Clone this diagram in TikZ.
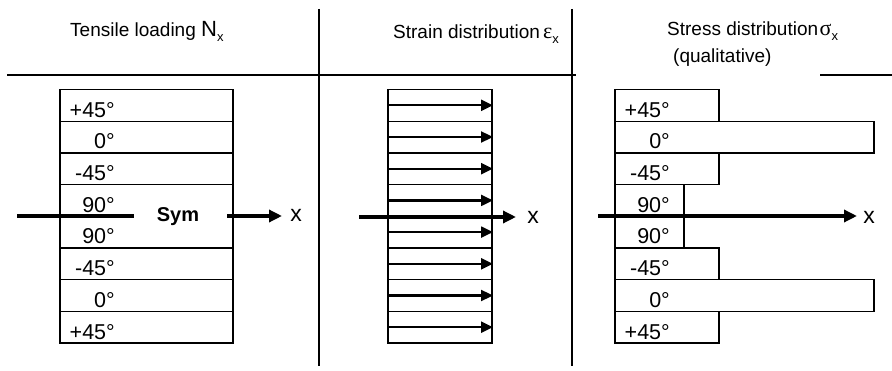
\documentclass[tikz,border=0pt]{standalone}
\usepackage{fontspec}
\setmainfont{Liberation Sans}
\newfontfamily\greekfont{Liberation Serif}
\usetikzlibrary{arrows.meta}

% subscript x used in the column headings
\newcommand{\subx}{\raisebox{-4.5pt}{\fontsize{13}{13}\selectfont x}}
% Greek symbol in the column headings
\newcommand{\grk}[1]{{\greekfont\fontsize{22}{22}\selectfont #1}}

\begin{document}
\begin{tikzpicture}[x=1pt,y=-1pt,
  rule/.style={line width=1.8pt},
  ply/.style={draw, line width=1.3pt},
  axisbare/.style={line width=4.5pt},
  axis/.style={line width=4.5pt, -{Triangle[length=13pt,width=12pt]}},
  strain/.style={line width=2.3pt, -{Triangle[length=12pt,width=11pt]}},
  head/.style={font=\fontsize{19}{22}\selectfont, inner sep=0pt, anchor=base west},
  lbl/.style={font=\fontsize{21.5}{24}\selectfont, inner sep=0pt, anchor=base east},
  xlbl/.style={font=\fontsize{23}{24}\selectfont, inner sep=0pt, anchor=base},
]
\useasboundingbox (0,0) rectangle (892,371);

% ---- frame: column separators and heading rule
\draw[rule] (319,9) -- (319,366);
\draw[rule] (572,9) -- (572,366);
\draw[rule] (7,75) -- (576,75);
\draw[rule] (820,75) -- (892,75);

% ---- headings
\node[head] (tl) at (70,37) {Tensile loading {\fontsize{22}{22}\selectfont N}\subx};
\node[head] (sd) at (393,39) {Strain distribution\,\grk{ε}\subx};
\node[head] (st) at (667,36) {Stress distribution\kern1.5pt\grk{σ}\subx};
\node[head] (ql) at (673,63) {(qualitative)};

% ply boundaries (8 plies of equal thickness)
\def\ya{89.5}  \def\yb{121.2} \def\yc{152.9} \def\yd{184.6}
\def\ye{216.3} \def\yf{248.0} \def\yg{279.7} \def\yh{311.4} \def\yi{343.1}

% ---- left column: laminate stacking sequence
\draw[ply] (60,\ya) rectangle (233,\yi);
\foreach \yy in {\yb,\yc,\yd,\yf,\yg,\yh} \draw[ply] (60,\yy) -- (233,\yy);
\node[lbl] (l1) at (115,117.2) {+45°};
\node[lbl] (l2) at (115,148.9) {0°};
\node[lbl] (l3) at (115,180.6) {-45°};
\node[lbl] (l4) at (115,212.3) {90°};
\node[lbl] (l5) at (115,244.0) {90°};
\node[lbl] (l6) at (115,275.7) {-45°};
\node[lbl] (l7) at (115,307.4) {0°};
\node[lbl] (l8) at (115,339.1) {+45°};

\coordinate (la) at (17,216);
\coordinate (lb) at (134,216);
\coordinate (lc) at (227,216);
\coordinate (ld) at (282,216);
\draw[axisbare] (la) -- (lb);
\node[font=\fontsize{20}{22}\selectfont\bfseries, inner sep=0pt, anchor=base] (sym) at (178,222) {Sym};
\draw[axis] (lc) -- (ld);
\node[xlbl] (lx) at (296,222) {x};

% ---- middle column: uniform strain
\draw[ply] (388,\ya) rectangle (492,\yi);
\foreach \yy in {\yb,\yc,\yd,\yf,\yg,\yh} \draw[ply] (388,\yy) -- (492,\yy);
\foreach \yy [count=\k] in {105.3,137.0,168.7,200.4,232.1,263.8,295.5,327.2} {
  \coordinate (s\k) at (388,\yy);
  \coordinate (e\k) at (493,\yy);
  \draw[strain] (s\k) -- (e\k);
}
\coordinate (ma) at (359,217);
\coordinate (mb) at (516,217);
\draw[axis] (ma) -- (mb);
\node[xlbl] (mx) at (533,224) {x};

% ---- right column: ply stresses
\draw[ply] (615,\ya) rectangle (719,\yb);
\draw[ply] (615,\yb) rectangle (874,\yc);
\draw[ply] (615,\yc) rectangle (719,\yd);
\draw[ply] (615,\yd) rectangle (684,\yf);
\draw[ply] (615,\yf) rectangle (719,\yg);
\draw[ply] (615,\yg) rectangle (874,\yh);
\draw[ply] (615,\yh) rectangle (719,\yi);
\node[lbl] (r1) at (670,117.2) {+45°};
\node[lbl] (r2) at (670,148.9) {0°};
\node[lbl] (r3) at (670,180.6) {-45°};
\node[lbl] (r4) at (670,212.3) {90°};
\node[lbl] (r5) at (670,244.0) {90°};
\node[lbl] (r6) at (670,275.7) {-45°};
\node[lbl] (r7) at (670,307.4) {0°};
\node[lbl] (r8) at (670,339.1) {+45°};

\coordinate (ra) at (598,216);
\coordinate (rb) at (857,216);
\draw[axis] (ra) -- (rb);
\node[xlbl] (rx) at (869,224) {x};
\end{tikzpicture}
\end{document}
